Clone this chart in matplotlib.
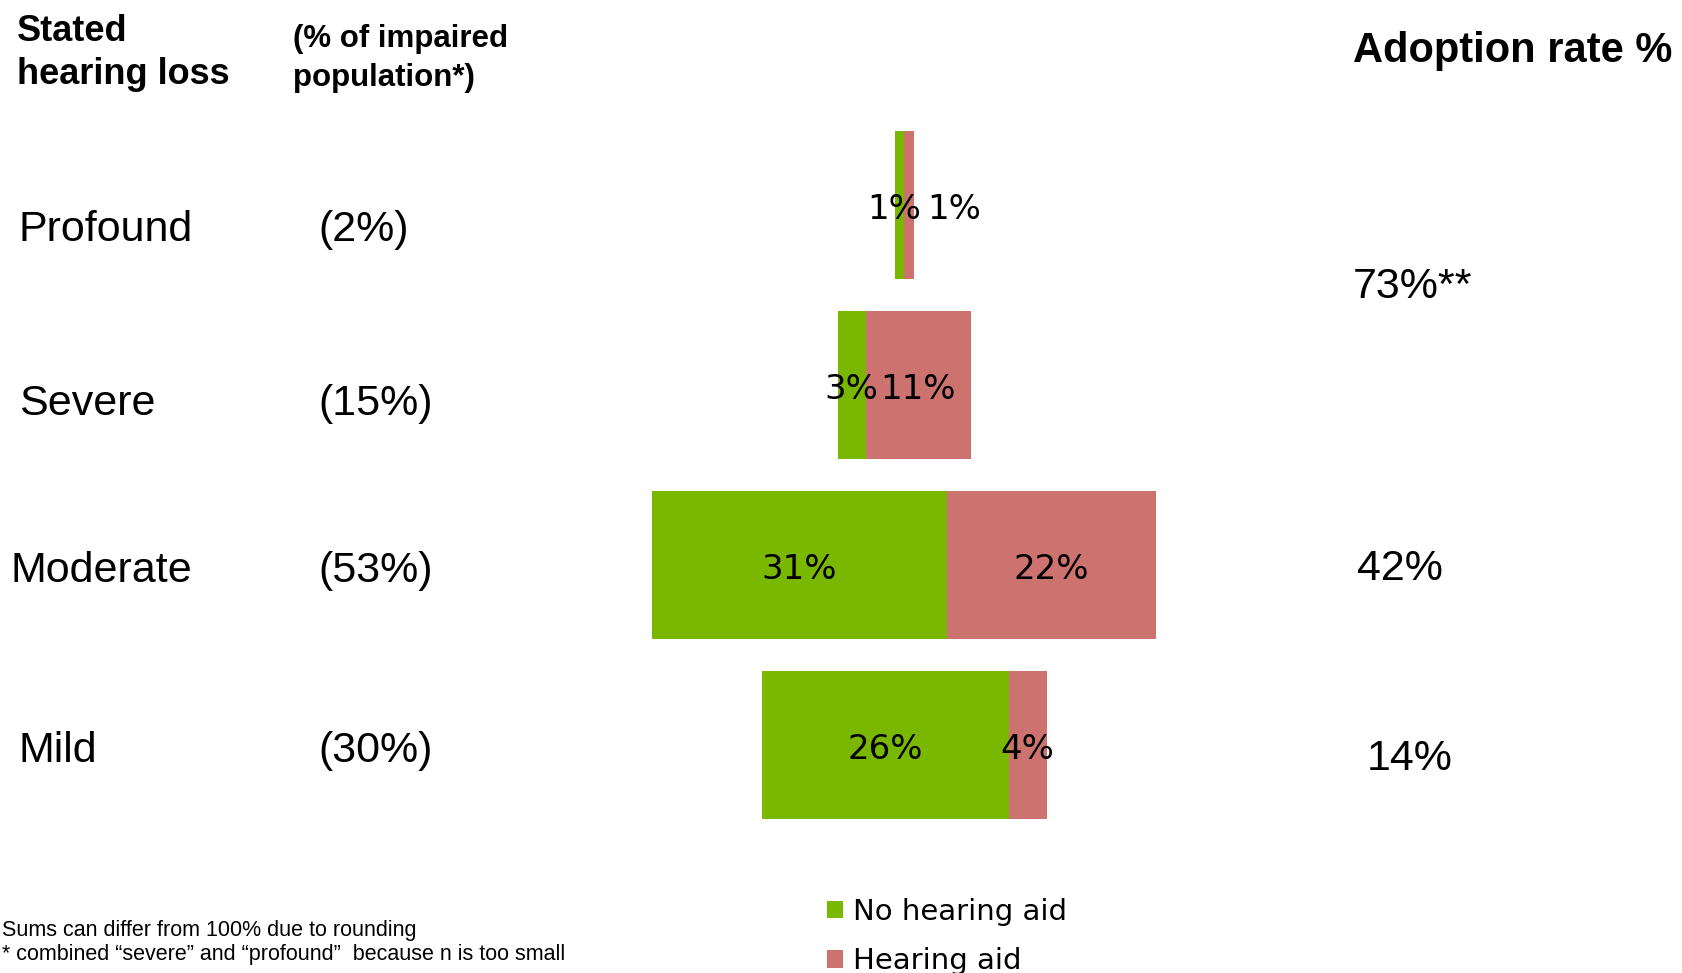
import matplotlib.pyplot as plt

# hearing loss groups, top to bottom
levels = ["Profound", "Severe", "Moderate", "Mild"]
population = ["(2%)", "(15%)", "(53%)", "(30%)"]

# share of impaired population, split by hearing aid use (%)
no_aid = [1, 3, 31, 26]
with_aid = [1, 11, 22, 4]

# adoption rate column (severe + profound are combined)
adoption = ["73%**", "42%", "14%"]

GREEN = "#7ab800"
RED = "#cc7370"
ARIAL = "Liberation Sans"
W, H = 1683, 973

fig = plt.figure(figsize=(W / 100, H / 100), dpi=100)
ax = fig.add_axes([0, 0, 1, 1])
ax.axis("off")

# bars are centred on zero, like a funnel
lefts = [-(g + h) / 2 for g, h in zip(no_aid, with_aid)]
mids = [l + g for l, g in zip(lefts, no_aid)]
ypos = list(range(len(levels)))
bar_h = 148 / 180

ax.barh(ypos, no_aid, left=lefts, height=bar_h, color=GREEN, label="No hearing aid")
ax.barh(ypos, with_aid, left=mids, height=bar_h, color=RED, label="Hearing aid")

# pixel scale: ~9.5 px per percent, zero at x=904, rows 180 px apart
px_per = 9.5
x0 = 904
ax.set_xlim(-x0 / px_per, (W - x0) / px_per)
ax.set_ylim((H - 205) / 180, -205 / 180)


def seg_label(x, y, s, dx=0):
    ax.annotate(s, (x, y), xytext=(dx, -3), textcoords="offset points",
                ha="center", va="center", fontsize=24.5, family="DejaVu Sans")


# value labels inside the segments
for i in ypos:
    dx_green = -4 if no_aid[i] < 2 else 0
    seg_label(lefts[i] + no_aid[i] / 2, i, f"{no_aid[i]}%", dx_green)
    # too thin a segment gets its label pushed off to the right
    dx = 33 if with_aid[i] < 2 else 0
    seg_label(mids[i] + with_aid[i] / 2, i, f"{with_aid[i]}%", dx)


def put(x, y, s, **kw):
    # place text by pixel position (y from top, baseline)
    fig.text(x / W, 1 - y / H, s, va="baseline", family=ARIAL, **kw)


# column headers
put(17, 41, "Stated", fontsize=26, weight="bold")
put(17, 84, "hearing loss", fontsize=26, weight="bold")
put(293, 47, "(% of impaired", fontsize=22.5, weight="bold")
put(293, 86, "population*)", fontsize=22.5, weight="bold")
put(1353, 62, "Adoption rate %", fontsize=30, weight="bold")

# row labels
label_x = [19, 19, 11, 19]
label_y = [241, 415, 582, 762]
for name, pop, lx, ly in zip(levels, population, label_x, label_y):
    put(lx, ly, name, fontsize=31)
    put(318, ly, pop, fontsize=31)

# adoption rates
for s, rx, ry in zip(adoption, [1353, 1357, 1367], [298, 580, 770]):
    put(rx, ry, s, fontsize=31)

# footnotes
put(2, 936, "Sums can differ from 100% due to rounding", fontsize=15.5)
put(2, 960, "* combined \u201csevere\u201d and \u201cprofound\u201d  because n is too small", fontsize=15.5)

ax.legend(loc="upper left", bbox_to_anchor=(827 / W, 1 - 898 / H),
          bbox_transform=fig.transFigure, frameon=False,
          prop={"family": "DejaVu Sans", "size": 21},
          handlelength=0.55, handleheight=0.55, handletextpad=0.34,
          labelspacing=0.73, borderpad=0, borderaxespad=0)

fig.savefig("out.png", dpi=100)
